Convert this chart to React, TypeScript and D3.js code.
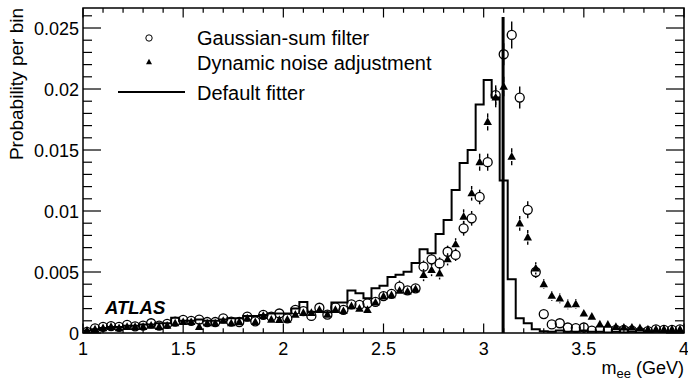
import React from 'react';
import * as d3 from 'd3';

const W = 688;
const H = 382;
const PLOT = { left: 83, right: 684, top: 8, bottom: 333 };
const X_DOMAIN: [number, number] = [1, 4];
const Y_DOMAIN: [number, number] = [0, 0.02664];
const BIN_START = 1.0;
const BIN_WIDTH = 0.04;
const JPSI_MASS = 3.097;
const JPSI_LINE_TOP = 0.0259;

const xTicks = [1, 1.5, 2, 2.5, 3, 3.5, 4];
const xTickLabels = ['1', '1.5', '2', '2.5', '3', '3.5', '4'];
const yTicks = [0, 0.005, 0.01, 0.015, 0.02, 0.025];
const yTickLabels = ['0', '0.005', '0.01', '0.015', '0.02', '0.025'];

const legendLabels = ['Gaussian-sum filter', 'Dynamic noise adjustment', 'Default fitter'];

// Default fitter histogram (per bin, 0.04 GeV bins from 1.00)
const defaultFitter = [
  0.0002, 0.0003, 0.0004, 0.0005, 0.0005, 0.0006, 0.0006, 0.0007, 0.0007, 0.0008,
  0.0008, 0.00126, 0.0010, 0.0010, 0.0011, 0.0010, 0.0010, 0.0011, 0.0012, 0.0012,
  0.0014, 0.0014, 0.00148, 0.0016, 0.0016, 0.0016, 0.0020, 0.00255, 0.00175, 0.00175,
  0.0017, 0.0025, 0.0025, 0.00348, 0.00325, 0.00284, 0.00366, 0.00388, 0.0046, 0.00478,
  0.00503, 0.00574, 0.00686, 0.00653, 0.00811, 0.00926, 0.01172, 0.01393, 0.0150, 0.01874,
  0.02074, 0.0193, 0.0125, 0.0044, 0.0012, 0.0008, 0.0003, 0.00015, 0.0001, 0.0002,
  0.0001, 0.0001, 0.0002, 0.0001, 0.0001, 0.00005, 0.0001, 0.00005, 0.0001, 0.00005,
  0.00005, 0.0001, 0.00005, 0.00005, 0.0001,
];

// Gaussian-sum filter (open circles)
const gsf = [
  0.0001, 0.00038, 0.0005, 0.00057, 0.0005, 0.00066, 0.00055, 0.0006, 0.0008, 0.0006,
  0.00075, 0.00093, 0.00107, 0.0010, 0.0011, 0.0009, 0.0009, 0.0012, 0.00093, 0.0009,
  0.00134, 0.00095, 0.00148, 0.00135, 0.0016, 0.0012, 0.0019, 0.0018, 0.0014, 0.00207,
  0.0015, 0.0021, 0.0019, 0.00235, 0.0023, 0.00243, 0.00255, 0.00303, 0.0032, 0.0038,
  0.0035, 0.00366, 0.00544, 0.00604, 0.0057, 0.00666, 0.0064, 0.00858, 0.0094, 0.01115,
  0.0140, 0.0195, 0.02285, 0.02443, 0.0193, 0.0101, 0.0050, 0.00155, 0.0007, 0.0008,
  0.00045, 0.0004, 0.00045, 0.0002, 0.00027, 0.00025, 0.00025, 0.00025, 0.0002, 0.0001,
  0.00015, 0.0003, 0.00025, 0.00025, 0.0003,
];
const gsfErr = [
  0.0002, 0.0002, 0.0002, 0.0002, 0.0002, 0.0002, 0.0002, 0.0002, 0.0002, 0.0002,
  0.0002, 0.0002, 0.0002, 0.0002, 0.0002, 0.0002, 0.0002, 0.0002, 0.0002, 0.0002,
  0.0002, 0.0002, 0.0002, 0.0002, 0.0002, 0.0002, 0.0002, 0.0002, 0.0002, 0.0002,
  0.0002, 0.0002, 0.0002, 0.0002, 0.0002, 0.0002, 0.0003, 0.0003, 0.0003, 0.0005,
  0.0003, 0.0003, 0.0005, 0.0005, 0.0005, 0.0005, 0.0005, 0.0006, 0.0006, 0.0006,
  0.0007, 0.0008, 0.0009, 0.0011, 0.0009, 0.0007, 0.0005, 0.0003, 0.0002, 0.0002,
  0.0002, 0.0002, 0.0004, 0.0002, 0.0002, 0.0002, 0.0002, 0.0002, 0.0002, 0.0002,
  0.0002, 0.0002, 0.0002, 0.0002, 0.0002,
];

// Dynamic noise adjustment (filled triangles)
const dna = [
  0.0002, 0.0003, 0.0004, 0.0005, 0.0004, 0.0005, 0.0005, 0.0005, 0.0006, 0.0005,
  0.0006, 0.0008, 0.0009, 0.0009, 0.0005, 0.0008, 0.0008, 0.0010, 0.0008, 0.0009,
  0.0012, 0.0009, 0.0014, 0.0011, 0.00107, 0.0011, 0.0015, 0.00165, 0.00165, 0.0019,
  0.0015, 0.0019, 0.0018, 0.0022, 0.0020, 0.0019, 0.0025, 0.0030, 0.0031, 0.00347,
  0.0034, 0.0036, 0.00475, 0.00516, 0.00489, 0.00604, 0.00727, 0.00954, 0.01145, 0.0140,
  0.0173, 0.0193, 0.0202, 0.01445, 0.00899, 0.00784, 0.0053, 0.0040, 0.00305, 0.00284,
  0.00234, 0.00236, 0.0016, 0.00134, 0.0007, 0.00068, 0.0005, 0.00045, 0.00045, 0.0004,
  0.0003, 0.0003, 0.0003, 0.0003, 0.0003,
];
const dnaErr = [
  0.0002, 0.0002, 0.0002, 0.0002, 0.0002, 0.0002, 0.0002, 0.0002, 0.0002, 0.0002,
  0.0002, 0.0002, 0.0002, 0.0002, 0.0002, 0.0002, 0.0002, 0.0002, 0.0002, 0.0002,
  0.0002, 0.0002, 0.0002, 0.0002, 0.0002, 0.0002, 0.0002, 0.0002, 0.0002, 0.0002,
  0.0002, 0.0002, 0.0002, 0.0002, 0.0002, 0.0002, 0.0003, 0.0003, 0.0003, 0.0003,
  0.0003, 0.0003, 0.0005, 0.0005, 0.0005, 0.0005, 0.0005, 0.0006, 0.0006, 0.0007,
  0.0007, 0.0008, 0.0008, 0.0007, 0.0006, 0.0006, 0.0005, 0.0004, 0.0004, 0.0004,
  0.0004, 0.0004, 0.0003, 0.0002, 0.0002, 0.0002, 0.0002, 0.0002, 0.0002, 0.0002,
  0.0002, 0.0002, 0.0002, 0.0002, 0.0002,
];

const FONT = '"Liberation Sans", Arial, Helvetica, sans-serif';

export default function App() {
  const x = d3.scaleLinear().domain(X_DOMAIN).range([PLOT.left, PLOT.right]);
  const y = d3.scaleLinear().domain(Y_DOMAIN).range([PLOT.bottom, PLOT.top]);

  const edges = defaultFitter.map((_, i) => BIN_START + i * BIN_WIDTH);
  const centers = edges.map((e) => e + BIN_WIDTH / 2);

  const histPts: [number, number][] = defaultFitter.map((v, i) => [edges[i], v]);
  histPts.push([BIN_START + defaultFitter.length * BIN_WIDTH, defaultFitter[defaultFitter.length - 1]]);
  const histPath = d3
    .line<[number, number]>()
    .x((d) => x(d[0]))
    .y((d) => y(d[1]))
    .curve(d3.curveStepAfter)(histPts);

  const xMinor = d3.range(1, 4.0001, 0.1).filter((v) => Math.abs(v * 2 - Math.round(v * 2)) > 1e-6);
  const yMinor = d3.range(0, Y_DOMAIN[1], 0.001).filter((v) => Math.abs(v / 0.005 - Math.round(v / 0.005)) > 1e-6);

  const yMajLen = 18;
  const xMajLen = 9.5;

  const triPath = (cx: number, cy: number, s: number) => {
    const h = s * 0.9;
    return `M${cx},${cy - h * 0.6}L${cx + s / 2},${cy + h * 0.4}L${cx - s / 2},${cy + h * 0.4}Z`;
  };

  const R = 4.5;
  const TS = 8.5;

  const errBar = (cx: number, v: number, e: number, gap: number, key: string) => {
    const cy = y(v);
    const top = y(v + e);
    const bot = y(Math.max(0, v - e));
    const segs = [];
    if (cy - top > gap) segs.push(<line key={key + 'u'} x1={cx} x2={cx} y1={top} y2={cy - gap} />);
    if (bot - cy > gap) segs.push(<line key={key + 'd'} x1={cx} x2={cx} y1={cy + gap} y2={bot} />);
    return segs;
  };

  return (
    <svg
      width={W}
      height={H}
      style={{ position: 'absolute', left: 0, top: 0, background: '#fff' }}
      fontFamily={FONT}
    >
      <rect x={0} y={0} width={W} height={H} fill="#fff" />
      <defs>
        <clipPath id="plotclip">
          <rect x={PLOT.left} y={PLOT.top} width={PLOT.right - PLOT.left} height={PLOT.bottom - PLOT.top} />
        </clipPath>
      </defs>

      {/* histogram */}
      <g clipPath="url(#plotclip)">
        <path d={histPath || ''} fill="none" stroke="#000" strokeWidth={2} />
        <line
          x1={x(JPSI_MASS)}
          x2={x(JPSI_MASS)}
          y1={y(0)}
          y2={y(JPSI_LINE_TOP)}
          stroke="#000"
          strokeWidth={3}
        />
        {/* error bars */}
        <g stroke="#000" strokeWidth={1.4}>
          {gsf.map((v, i) => errBar(x(centers[i]), v, gsfErr[i], R, 'g' + i))}
          {dna.map((v, i) => errBar(x(centers[i]), v, dnaErr[i], TS * 0.5, 'd' + i))}
        </g>
        {/* circles */}
        <g fill="none" stroke="#000" strokeWidth={1.3}>
          {gsf.map((v, i) => (
            <circle key={'c' + i} cx={x(centers[i])} cy={y(v)} r={R} />
          ))}
        </g>
        {/* triangles */}
        <g fill="#000">
          {dna.map((v, i) => (
            <path key={'t' + i} d={triPath(x(centers[i]), y(v), TS)} />
          ))}
        </g>
      </g>

      {/* frame */}
      <rect
        x={PLOT.left}
        y={PLOT.top}
        width={PLOT.right - PLOT.left}
        height={PLOT.bottom - PLOT.top}
        fill="none"
        stroke="#000"
        strokeWidth={1.5}
      />

      {/* ticks */}
      <g stroke="#000" strokeWidth={1.2}>
        {xTicks.map((t) => (
          <g key={'xt' + t}>
            <line x1={x(t)} x2={x(t)} y1={PLOT.bottom} y2={PLOT.bottom - xMajLen} />
            <line x1={x(t)} x2={x(t)} y1={PLOT.top} y2={PLOT.top + xMajLen} />
          </g>
        ))}
        {xMinor.map((t) => (
          <g key={'xm' + t}>
            <line x1={x(t)} x2={x(t)} y1={PLOT.bottom} y2={PLOT.bottom - xMajLen / 2} />
            <line x1={x(t)} x2={x(t)} y1={PLOT.top} y2={PLOT.top + xMajLen / 2} />
          </g>
        ))}
        {yTicks.map((t) => (
          <g key={'yt' + t}>
            <line x1={PLOT.left} x2={PLOT.left + yMajLen} y1={y(t)} y2={y(t)} />
            <line x1={PLOT.right} x2={PLOT.right - yMajLen} y1={y(t)} y2={y(t)} />
          </g>
        ))}
        {yMinor.map((t) => (
          <g key={'ym' + t}>
            <line x1={PLOT.left} x2={PLOT.left + yMajLen / 2} y1={y(t)} y2={y(t)} />
            <line x1={PLOT.right} x2={PLOT.right - yMajLen / 2} y1={y(t)} y2={y(t)} />
          </g>
        ))}
      </g>

      {/* tick labels */}
      <g fontSize={18} fill="#000">
        {yTicks.map((t, i) => (
          <text key={'yl' + t} x={PLOT.left - 4} y={y(t) + 6.5} textAnchor="end">
            {yTickLabels[i]}
          </text>
        ))}
        {xTicks.map((t, i) => (
          <text key={'xl' + t} x={x(t)} y={355} textAnchor="middle">
            {xTickLabels[i]}
          </text>
        ))}
      </g>

      {/* axis titles */}
      <text x={PLOT.right} y={374} textAnchor="end" fontSize={18}>
        m<tspan fontSize={13} dy={3.5}>ee</tspan>
        <tspan dy={-3.5}> (GeV)</tspan>
      </text>
      <text transform={`translate(23, ${PLOT.top}) rotate(-90)`} textAnchor="end" fontSize={19}>
        Probability per bin
      </text>

      {/* ATLAS label */}
      <text x={105} y={314} fontSize={18.5} fontWeight="bold" fontStyle="italic">
        ATLAS
      </text>

      {/* legend */}
      <g>
        <circle cx={149} cy={38} r={3.2} fill="none" stroke="#000" strokeWidth={1} />
        <path d={triPath(149, 62, 6)} fill="#000" />
        <line x1={118} x2={185} y1={92} y2={92} stroke="#000" strokeWidth={2} />
        <g fontSize={20}>
          <text x={197} y={45}>{legendLabels[0]}</text>
          <text x={197} y={69.5}>{legendLabels[1]}</text>
          <text x={197} y={99.5}>{legendLabels[2]}</text>
        </g>
      </g>
    </svg>
  );
}
